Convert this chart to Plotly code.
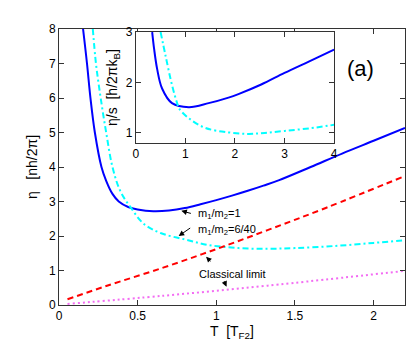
import plotly.graph_objects as go

# main panel: eta vs T
t_m1 = [0.153, 0.178, 0.20, 0.228, 0.27, 0.30, 0.34, 0.38, 0.44, 0.5, 0.6, 0.7, 0.8, 0.9,
        1.0, 1.1, 1.2, 1.3, 1.4, 1.6, 1.8, 2.0, 2.2]
eta_m1 = [8.0, 7.0, 6.0, 5.0, 4.0, 3.6, 3.22, 3.0, 2.84, 2.77, 2.72, 2.74, 2.81, 2.92,
          3.04, 3.17, 3.31, 3.46, 3.62, 4.00, 4.39, 4.76, 5.13]

t_m640 = [0.215, 0.235, 0.265, 0.30, 0.34, 0.39, 0.46, 0.54, 0.65, 0.8, 0.95, 1.14,
          1.33, 1.5, 1.75, 2.0, 2.2]
eta_m640 = [8.0, 7.0, 6.0, 5.0, 4.0, 3.3, 2.8, 2.35, 2.08, 1.9, 1.74, 1.65,
            1.63, 1.65, 1.71, 1.80, 1.88]

t_cl = [0.054, 0.3, 0.667, 1.0, 1.326, 1.7, 2.2]
eta_cl = [0.165, 0.55, 1.09, 1.62, 2.17, 2.82, 3.74]

t_cl2 = [0.054, 0.667, 1.326, 2.2]
eta_cl2 = [0.03, 0.27, 0.56, 0.99]

# inset: eta/s vs T
t_in1 = [0.33, 0.37, 0.43, 0.53, 0.73, 1.07, 1.47, 1.87, 2.07, 2.53, 3.0, 3.5, 4.0]
es_in1 = [3.0, 2.66, 2.27, 1.88, 1.59, 1.51, 1.59, 1.70, 1.77, 1.96, 2.19, 2.42, 2.65]

t_in2 = [0.5, 0.6, 0.73, 0.83, 0.87, 1.07, 1.4, 1.87, 2.27, 2.6, 3.0, 3.5, 4.0]
es_in2 = [3.0, 2.53, 1.95, 1.6, 1.49, 1.29, 1.10, 1.01, 0.98, 1.0, 1.04, 1.09, 1.16]

FONT = "Liberation Sans, Arial, sans-serif"

fig = go.Figure()
fig.add_trace(go.Scatter(x=t_m1, y=eta_m1, mode="lines", line_shape="spline",
                         line=dict(color="#0000ff", width=2)))
fig.add_trace(go.Scatter(x=t_m640, y=eta_m640, mode="lines", line_shape="spline",
                         line=dict(color="#00ffff", width=2, dash="6px,3px,2px,3px")))
fig.add_trace(go.Scatter(x=t_cl, y=eta_cl, mode="lines", line_shape="spline",
                         line=dict(color="#ff0000", width=2, dash="6px,4px")))
fig.add_trace(go.Scatter(x=t_cl2, y=eta_cl2, mode="lines", line_shape="spline",
                         line=dict(color="#f36cf3", width=2, dash="2px,3px")))

fig.add_trace(go.Scatter(x=t_in1, y=es_in1, mode="lines", line_shape="spline",
                         xaxis="x2", yaxis="y2",
                         line=dict(color="#0000ff", width=2)))
fig.add_trace(go.Scatter(x=t_in2, y=es_in2, mode="lines", line_shape="spline",
                         xaxis="x2", yaxis="y2",
                         line=dict(color="#00ffff", width=2, dash="6px,3px,2px,3px")))

ax_style = dict(showline=True, linecolor="#333333", linewidth=1, mirror="ticks",
                ticks="inside", ticklen=5, tickcolor="#333333", showgrid=False,
                zeroline=False, tickfont=dict(size=12, color="black"))

fig.update_layout(
    width=415, height=342,
    margin=dict(l=59, r=6, t=29, b=37),
    paper_bgcolor="white", plot_bgcolor="white",
    showlegend=False,
    font=dict(family=FONT, color="black"),
    xaxis=dict(range=[0, 2.2], tickvals=[0, 0.5, 1, 1.5, 2],
               ticktext=["0", "0.5", "1", "1.5", "2"],
               title=dict(text="T  [T<sub>F2</sub>]", font=dict(size=14), standoff=1),
               **ax_style),
    yaxis=dict(range=[0, 8], dtick=1,
               title=dict(text="η   [nh/2π]", font=dict(size=14), standoff=8),
               **ax_style),
    xaxis2=dict(domain=[0.222, 0.795], anchor="y2", range=[0, 4], dtick=1,
                **{**ax_style, "tickfont": dict(size=12, color="black")}),
    yaxis2=dict(domain=[0.587, 0.989], anchor="x2", range=[0.8, 3], tickvals=[1, 2, 3],
                title=dict(text="η/s  [h/2πk<sub>B</sub>]", font=dict(size=14), standoff=4),
                **{**ax_style, "tickfont": dict(size=12, color="black")}),
)

fig.add_annotation(xref="paper", yref="paper", x=0.915, y=0.91, text="(a)",
                   showarrow=False, font=dict(size=22))

arrow = dict(showarrow=True, text="", arrowhead=2, arrowsize=1.1, arrowwidth=1,
             arrowcolor="black", xref="x", yref="y", axref="pixel", ayref="pixel")
fig.add_annotation(x=0.778, y=2.73, ax=11, ay=3, **arrow)
fig.add_annotation(x=0.761, y=2.0, ax=13, ay=-9, **arrow)
fig.add_annotation(x=0.935, y=1.40, ax=6, ay=6, **arrow)
fig.add_annotation(x=1.065, y=0.53, ax=-3, ay=-7, **arrow)

lab = dict(showarrow=False, xref="x", yref="y", xanchor="left", yanchor="middle",
           font=dict(size=11))
fig.add_annotation(x=0.868, y=2.64, text="m<sub>1</sub>/m<sub>2</sub>=1", **lab)
fig.add_annotation(x=0.87, y=2.17, text="m<sub>1</sub>/m<sub>2</sub>=6/40", **lab)
fig.add_annotation(x=0.876, y=0.90, text="Classical limit", **lab)

# page body has a default margin; drop it so the figure sits at the window corner
fig.write_html("out.html", config={"displayModeBar": False},
               post_script="document.body.style.margin='0';")
